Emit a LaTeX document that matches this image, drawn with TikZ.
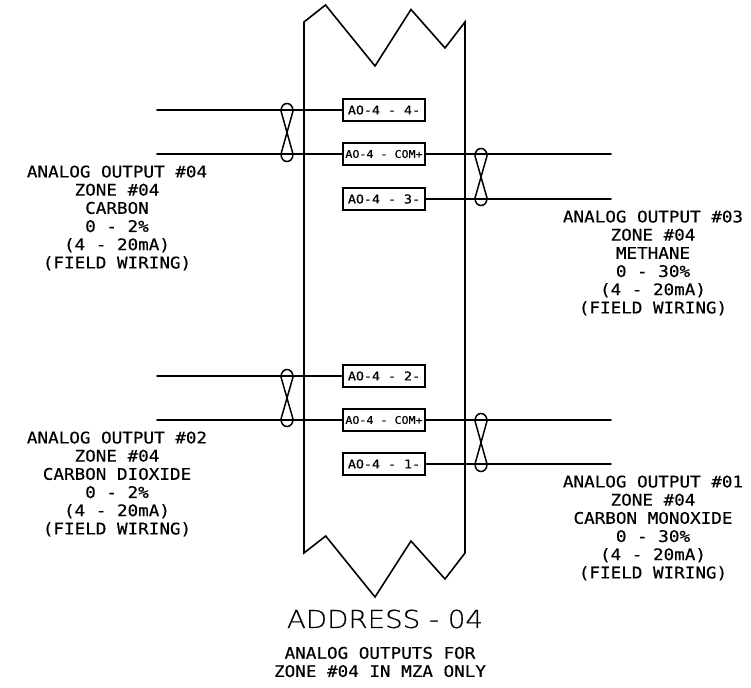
\documentclass[tikz,border=0pt]{standalone}
\usepackage{fontspec}
\setmainfont[FakeStretch=1.1,FakeBold=0.4]{DejaVu Sans Mono}
\newfontfamily\boxfont[FakeStretch=1.1,FakeBold=0.7]{DejaVu Sans Mono}
\newfontfamily\addrfont[FakeStretch=1.12,FakeBold=0.5]{DejaVu Sans ExtraLight}
\tikzset{
 wire/.style={line width=1.7pt,line cap=round,line join=miter},
 outline/.style={line width=1.6pt,line join=miter},
 termbox/.style={draw,line width=1.7pt,minimum width=82pt,minimum height=22pt,inner sep=0pt},
 narrowtxt/.style={font=\boxfont\fontsize{10.6}{12}\selectfont},
 widetxt/.style={font=\boxfont\fontsize{12.1}{14}\selectfont},
 lab/.style={align=center,font=\fontsize{16}{18.2}\selectfont,inner sep=0pt},
 twist/.style={line width=1.5pt},
}
\newcommand{\twistat}[3]{% x, top y, bottom y
 \draw[twist] (#1-6,#2+6) .. controls (#1-6,#2-4) and (#1+6,#2-4) .. (#1+6,#2+6) -- (#1-6,#3-6) .. controls (#1-6,#3+4) and (#1+6,#3+4) .. (#1+6,#3-6) -- cycle;
}
\begin{document}
\begin{tikzpicture}[x=1pt,y=-1pt]
\useasboundingbox (0,0) rectangle (751,687);
\fill[white] (0,0) rectangle (751,687);
\draw[outline] (304,22) -- (325.5,5) -- (375,66) -- (411,9.5) -- (445,48) -- (465,22) -- (465,553) -- (445,579) -- (411,541) -- (375,597) -- (325.7,536) -- (304,553) -- cycle;
\node[termbox,widetxt] (t4) at (384,110) {AO-4 - 4-};
\node[termbox,narrowtxt] (c1) at (384,154) {AO-4 - COM+};
\node[termbox,widetxt] (t3) at (384,199) {AO-4 - 3-};
\node[termbox,widetxt] (t2) at (384,376) {AO-4 - 2-};
\node[termbox,narrowtxt] (c2) at (384,420) {AO-4 - COM+};
\node[termbox,widetxt] (t1) at (384,464) {AO-4 - 1-};
\coordinate (e4) at (157,110);
\coordinate (ec1l) at (157,154);
\coordinate (ec1r) at (611,154);
\coordinate (e3) at (611,199);
\coordinate (e2) at (157,376);
\coordinate (ec2l) at (157,420);
\coordinate (ec2r) at (611,420);
\coordinate (e1) at (611,464);
\draw[wire] (e4) -- (t4.west);
\draw[wire] (ec1l) -- (c1.west);
\draw[wire] (c1.east) -- (ec1r);
\draw[wire] (t3.east) -- (e3);
\draw[wire] (e2) -- (t2.west);
\draw[wire] (ec2l) -- (c2.west);
\draw[wire] (c2.east) -- (ec2r);
\draw[wire] (t1.east) -- (e1);
\twistat{287}{105}{160}
\twistat{481}{150}{204}
\twistat{287}{371}{425}
\twistat{481}{415}{470}
\node[lab] (l4) at (117,218) {ANALOG OUTPUT \#04\\ZONE \#04\\CARBON\\0 - 2\%\\(4 - 20mA)\\(FIELD WIRING)};
\node[lab] (l3) at (653,263) {ANALOG OUTPUT \#03\\ZONE \#04\\METHANE\\0 - 30\%\\(4 - 20mA)\\(FIELD WIRING)};
\node[lab] (l2) at (117,484) {ANALOG OUTPUT \#02\\ZONE \#04\\CARBON DIOXIDE\\0 - 2\%\\(4 - 20mA)\\(FIELD WIRING)};
\node[lab] (l1) at (653,528) {ANALOG OUTPUT \#01\\ZONE \#04\\CARBON MONOXIDE\\0 - 30\%\\(4 - 20mA)\\(FIELD WIRING)};
\node[inner sep=0pt,font=\addrfont\fontsize{24.7}{27}\selectfont] (addr) at (385,619) {ADDRESS - 04};
\node[lab] (note) at (380,662) {ANALOG OUTPUTS FOR\\ZONE \#04 IN MZA ONLY};
\end{tikzpicture}
\end{document}
